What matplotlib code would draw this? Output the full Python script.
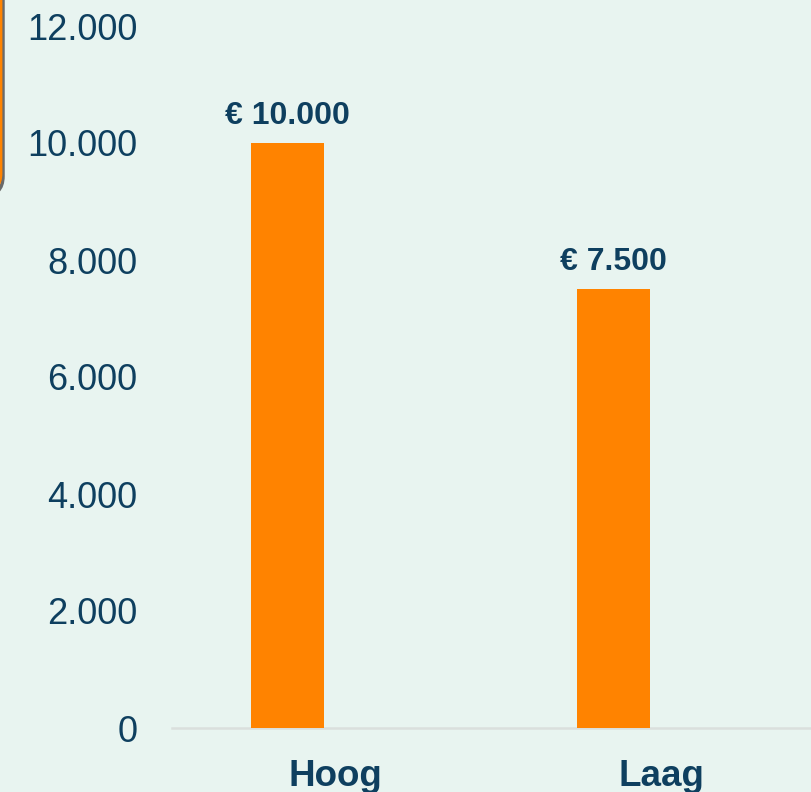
import matplotlib.pyplot as plt
from matplotlib.patches import FancyBboxPatch

plt.rcParams["font.family"] = ["Liberation Sans", "DejaVu Sans"]

categories = ["Hoog", "Laag"]
values = [10000, 7500]
value_labels = ["€ 10.000", "€ 7.500"]
y_ticks = [0, 2000, 4000, 6000, 8000, 10000, 12000]
y_tick_labels = ["0", "2.000", "4.000", "6.000", "8.000", "10.000", "12.000"]

BG = "#E8F4F0"
ORANGE = "#FF8300"
NAVY = "#0E3F5F"

W, H = 811, 792
fig = plt.figure(figsize=(W / 100, H / 100), dpi=100, facecolor=BG)

# axes runs a bit past the right edge, like the cropped original
ax = fig.add_axes([172 / W, 64 / H, 652 / W, 702 / H], facecolor=BG)

x = list(range(len(categories)))
offset = -0.145
bar_x = [i + offset for i in x]
ax.bar(bar_x, values, width=0.224, color=ORANGE, zorder=3)

for bx, v, lab in zip(bar_x, values, value_labels):
    ax.annotate(lab, (bx, v), xytext=(0, 9), textcoords="offset points",
                ha="center", va="bottom", fontsize=23, fontweight="bold",
                color=NAVY)

ax.set_xlim(-0.5, 1.5)
ax.set_ylim(0, 12000)
ax.set_xticks(x)
ax.set_xticklabels(categories, fontsize=26.5, fontweight="bold", color=NAVY)
ax.set_yticks(y_ticks)
ax.set_yticklabels(y_tick_labels, fontsize=26, color=NAVY)
ax.tick_params(axis="both", length=0)
ax.tick_params(axis="y", pad=25)
ax.tick_params(axis="x", pad=22)

for s in ["top", "right", "left"]:
    ax.spines[s].set_visible(False)
ax.spines["bottom"].set_color("#DADFDD")
ax.spines["bottom"].set_linewidth(1.8)

# cut-off rounded box on the left edge
shadow = FancyBboxPatch((-299 / W, 1 - 196 / H), 302 / W, 400 / H,
                        boxstyle="round,pad=0,rounding_size=0.025",
                        transform=fig.transFigure, fill=False,
                        edgecolor="#6A6A6A", linewidth=2.5, zorder=0)
box = FancyBboxPatch((-301 / W, 1 - 193 / H), 302 / W, 400 / H,
                     boxstyle="round,pad=0,rounding_size=0.025",
                     transform=fig.transFigure, fill=False,
                     edgecolor=ORANGE, linewidth=2, zorder=1)
fig.patches.extend([shadow, box])

plt.savefig("out.png", dpi=100, facecolor=BG)
